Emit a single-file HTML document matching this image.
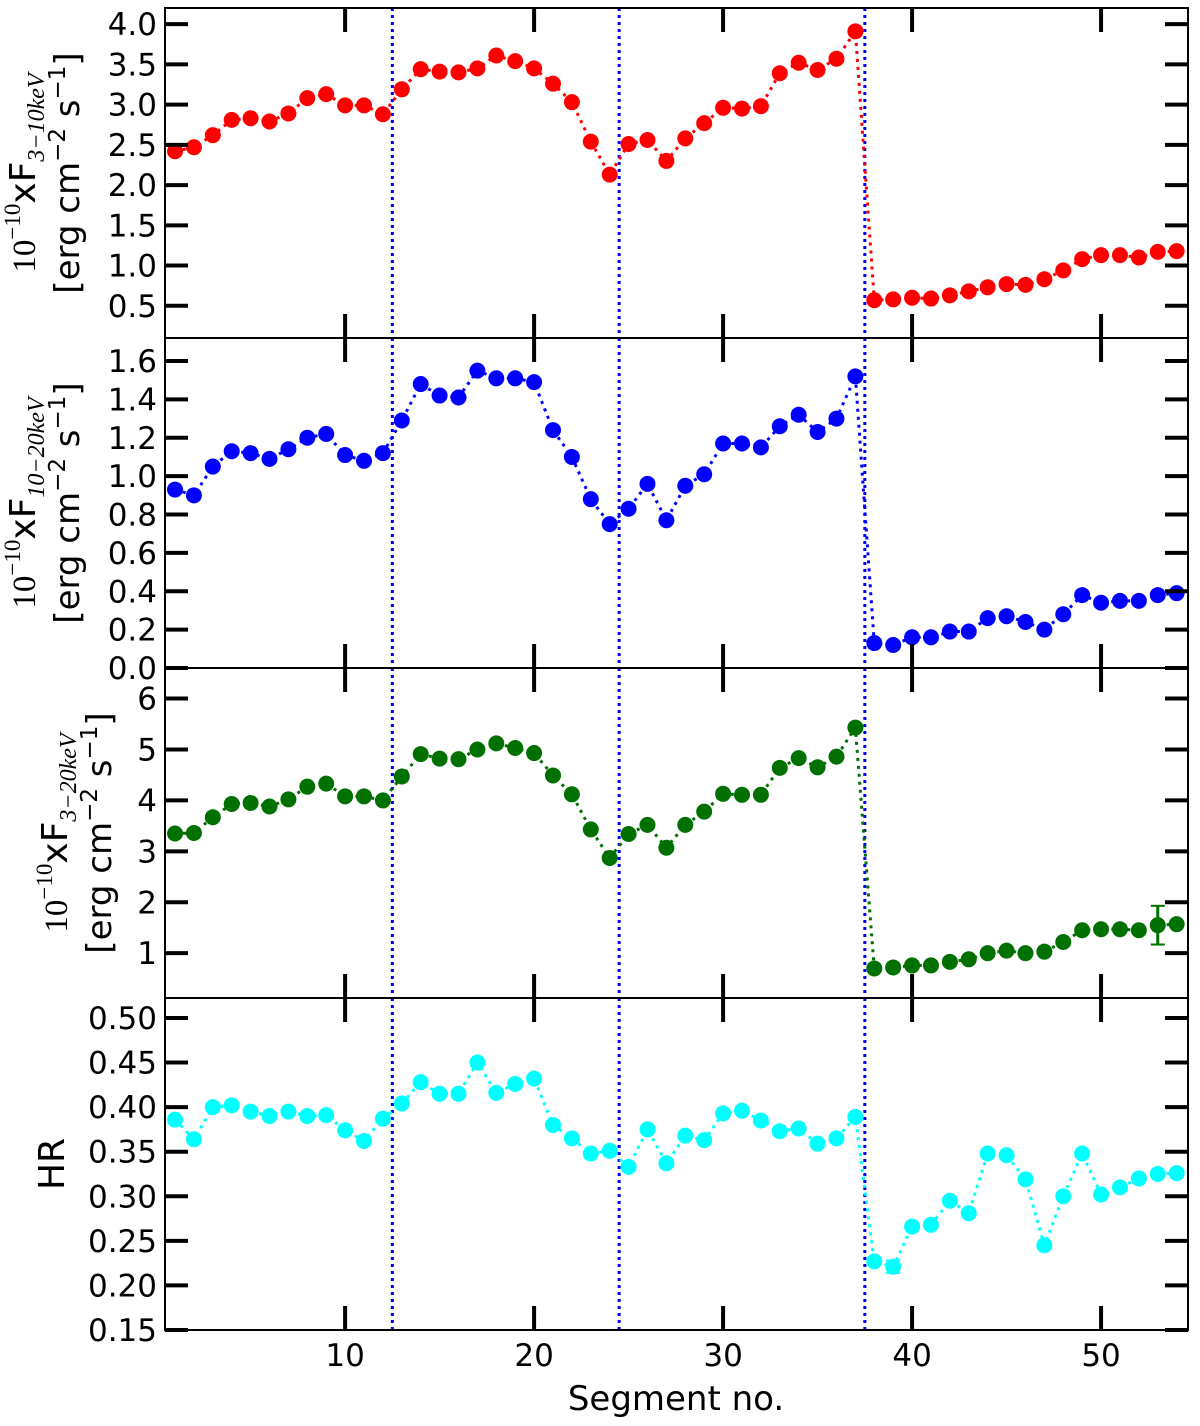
<!DOCTYPE html>
<html><head><meta charset="utf-8"><style>
html,body{margin:0;padding:0;background:#fff;}
svg{display:block;font-family:"DejaVu Sans","Liberation Sans",sans-serif;}
</style></head><body>
<svg id="chart" width="1200" height="1426" xmlns="http://www.w3.org/2000/svg"></svg>
<script>
const segments = Array.from({length:54},(_,i)=>i+1);
const flux3_10 = [2.42,2.47,2.62,2.81,2.83,2.79,2.89,3.08,3.13,2.99,2.99,2.88,3.19,3.44,3.41,3.40,3.45,3.61,3.54,3.45,3.26,3.03,2.54,2.13,2.51,2.56,2.30,2.58,2.77,2.96,2.95,2.98,3.39,3.52,3.43,3.57,3.91,0.57,0.58,0.60,0.59,0.63,0.68,0.73,0.77,0.76,0.83,0.94,1.08,1.13,1.13,1.10,1.17,1.18];
const flux10_20 = [0.93,0.90,1.05,1.13,1.12,1.09,1.14,1.20,1.22,1.11,1.08,1.12,1.29,1.48,1.42,1.41,1.55,1.51,1.51,1.49,1.24,1.10,0.88,0.75,0.83,0.96,0.77,0.95,1.01,1.17,1.17,1.15,1.26,1.32,1.23,1.30,1.52,0.13,0.12,0.16,0.16,0.19,0.19,0.26,0.27,0.24,0.20,0.28,0.38,0.34,0.35,0.35,0.38,0.39];
const flux3_20 = [3.35,3.36,3.67,3.93,3.95,3.88,4.02,4.27,4.33,4.08,4.08,4.00,4.47,4.91,4.82,4.81,5.00,5.12,5.03,4.93,4.49,4.12,3.43,2.87,3.34,3.52,3.07,3.52,3.78,4.13,4.11,4.11,4.64,4.83,4.65,4.86,5.43,0.70,0.72,0.76,0.76,0.83,0.88,1.00,1.05,1.00,1.03,1.22,1.45,1.47,1.47,1.45,1.55,1.57];
const hardness = [0.386,0.364,0.400,0.402,0.395,0.390,0.395,0.390,0.391,0.374,0.362,0.387,0.404,0.428,0.415,0.415,0.450,0.416,0.426,0.432,0.380,0.365,0.348,0.351,0.333,0.375,0.337,0.368,0.363,0.393,0.396,0.385,0.373,0.376,0.359,0.365,0.389,0.227,0.221,0.266,0.268,0.295,0.281,0.348,0.346,0.319,0.245,0.300,0.348,0.302,0.310,0.320,0.325,0.326];
const errorBars3_20 = [[53,0.38]];
const errorBarsHR = [[39,0.007]];
const xTicks = [10,20,30,40,50];
const splitLines = [12.5,24.5,37.5];
const ticks1 = ["0.5","1.0","1.5","2.0","2.5","3.0","3.5","4.0"];
const ticks2 = ["0.0","0.2","0.4","0.6","0.8","1.0","1.2","1.4","1.6"];
const ticks3 = ["1","2","3","4","5","6"];
const ticks4 = ["0.15","0.20","0.25","0.30","0.35","0.40","0.45","0.50"];

const NS="http://www.w3.org/2000/svg";
const svg=document.getElementById('chart');
const L=165,R=1188;
const xmin=0.47,xmax=54.6;
const X=v=>L+(v-xmin)/(xmax-xmin)*(R-L);
function el(tag,attrs,parent){const e=document.createElementNS(NS,tag);for(const k in attrs)e.setAttribute(k,attrs[k]);(parent||svg).appendChild(e);return e;}

const panels=[
 {name:'flux-3-10-panel',top:8,bot:338,ymin:0.10,ymax:4.2,data:flux3_10,color:'#ff0000',ticks:ticks1,err:[],
  lab:{x1:22,x2:66,sub:'3−10keV'}},
 {name:'flux-10-20-panel',top:338,bot:668,ymin:0,ymax:1.72,data:flux10_20,color:'#0000ff',ticks:ticks2,err:[],
  lab:{x1:22,x2:66,sub:'10−20keV'}},
 {name:'flux-3-20-panel',top:668,bot:998,ymin:0.12,ymax:6.6,data:flux3_20,color:'#007000',ticks:ticks3,err:errorBars3_20,
  lab:{x1:54,x2:98,sub:'3−20keV'}},
 {name:'hardness-ratio-panel',top:998,bot:1330,ymin:0.15,ymax:0.5224,data:hardness,color:'#00ffff',ticks:ticks4,err:errorBarsHR,lab:null}
];

panels.forEach((p,pi)=>{
  const g=el('g',{});
  
  
  const Y=v=>p.bot-(v-p.ymin)/(p.ymax-p.ymin)*(p.bot-p.top);
  const clipId='clip'+pi;
  const cp=el('clipPath',{id:clipId},g);el('rect',{x:L,y:p.top,width:R-L,height:p.bot-p.top},cp);
  splitLines.forEach(s=>{const ln=el('line',{x1:X(s),x2:X(s),y1:p.top,y2:p.bot,stroke:'#0000ff','stroke-width':3,'stroke-dasharray':'3,4'},g);
    });
  const dg=el('g',{'clip-path':`url(#${clipId})`},g);
  const pts=p.data.map((v,i)=>X(segments[i])+','+Y(v)).join(' ');
  const pl=el('polyline',{points:pts,fill:'none',stroke:p.color,'stroke-width':3,'stroke-dasharray':'3,5'},dg);
  
  p.err.forEach(([s,e])=>{const v=p.data[s-1];
    el('line',{x1:X(s),x2:X(s),y1:Y(v-e),y2:Y(v+e),stroke:p.color,'stroke-width':3},dg);
    el('line',{x1:X(s)-7,x2:X(s)+7,y1:Y(v-e),y2:Y(v-e),stroke:p.color,'stroke-width':2},dg);
    el('line',{x1:X(s)-7,x2:X(s)+7,y1:Y(v+e),y2:Y(v+e),stroke:p.color,'stroke-width':2},dg);});
  p.data.forEach((v,i)=>{const c=el('circle',{cx:X(segments[i]),cy:Y(v),r:8,fill:p.color},dg);
    });
  el('rect',{x:L,y:p.top,width:R-L,height:p.bot-p.top,fill:'none',stroke:'#000','stroke-width':2},g);
  xTicks.forEach(t=>{el('line',{x1:X(t),x2:X(t),y1:p.bot,y2:p.bot-24,stroke:'#000','stroke-width':4},g);
    el('line',{x1:X(t),x2:X(t),y1:p.top,y2:p.top+24,stroke:'#000','stroke-width':4},g);});
  p.ticks.forEach(t=>{const y=Y(parseFloat(t));
    el('line',{x1:L,x2:L+23,y1:y,y2:y,stroke:'#000','stroke-width':4},g);
    el('line',{x1:R,x2:R-23,y1:y,y2:y,stroke:'#000','stroke-width':4},g);
    const tx=el('text',{x:L-8,y:y+11,'text-anchor':'end','font-size':31},g);tx.textContent=t;
    });
  const cy=(p.top+p.bot)/2;
  if(p.lab){
    const t1=el('text',{transform:`translate(${p.lab.x1+13},${cy}) rotate(-90)`,'text-anchor':'middle','font-size':36},g);
    
    t1.innerHTML=`<tspan font-family="Liberation Serif,serif" font-size="33">10</tspan><tspan font-size="23" dy="-15" font-family="Liberation Serif,serif">−10</tspan><tspan dy="15">xF</tspan><tspan font-size="24" dy="9" font-family="Liberation Serif,serif" font-style="italic">${p.lab.sub}</tspan>`;
    const t2=el('text',{transform:`translate(${p.lab.x2+13},${cy}) rotate(-90)`,'text-anchor':'middle','font-size':34},g);
    
    t2.innerHTML=`[erg cm<tspan font-size="23" dy="-14">−2</tspan><tspan dy="14"> s</tspan><tspan font-size="23" dy="-14">−1</tspan><tspan dy="14">]</tspan>`;
  } else {
    const t=el('text',{transform:`translate(64,${cy}) rotate(-90)`,'text-anchor':'middle','font-size':36},g);
    t.textContent='HR';
  }
});
xTicks.forEach(t=>{const tx=el('text',{x:X(t),y:1366,'text-anchor':'middle','font-size':31});tx.textContent=t;
  });
const xt=el('text',{x:676,y:1410,'text-anchor':'middle','font-size':34});xt.textContent='Segment no.';

</script>
</body></html>
